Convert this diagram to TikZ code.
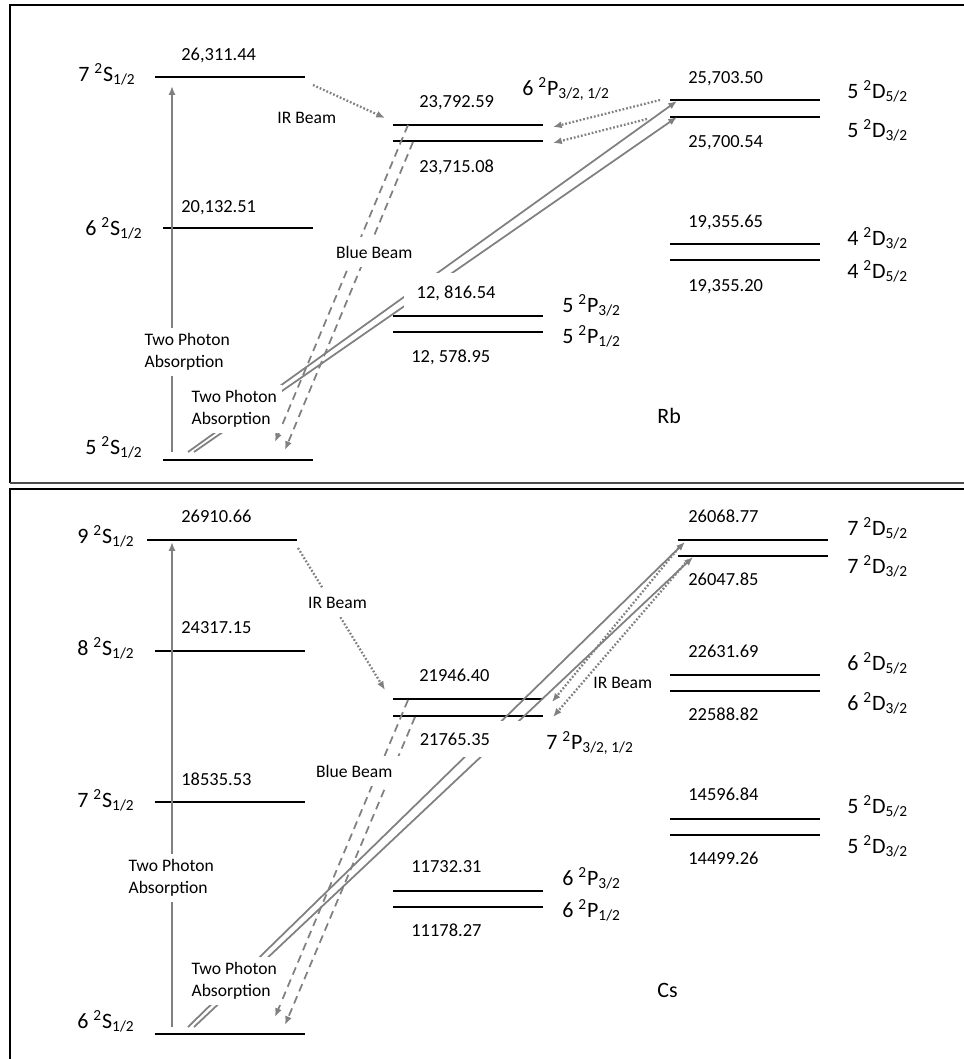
\documentclass[tikz,border=0pt]{standalone}
\usepackage{fontspec}
\setmainfont{Carlito}
\usepackage{tikz}
\usetikzlibrary{arrows.meta}
\definecolor{beamgray}{RGB}{128,128,128}
\newcommand{\trm}[3]{#1~\textsuperscript{2}#2\textsubscript{#3}}

\begin{document}
\begin{tikzpicture}[x=0.02cm, y=-0.02cm,
		lvl/.style={black, line width=1.1pt},
		beam/.style={beamgray, line width=1pt, -{Latex[length=5pt,width=4pt]}},
		irbeam/.style={beam, line width=1.3pt, dash pattern=on 1pt off 1.1pt},
		bluebeam/.style={beam, dash pattern=on 4.5pt off 3pt},
		term/.style={font=\fontsize{12.5}{15}\selectfont, inner sep=0pt},
		val/.style={font=\fontsize{10.5}{12.5}\selectfont, inner sep=0pt},
		note/.style={font=\fontsize{10}{12.5}\selectfont, fill=white, align=left, inner sep=3pt}]
	\useasboundingbox (0,0) rectangle (964,1059);
	\draw[line width=1.3pt] (964,5) -- (10,5) -- (10,483);
	\draw[line width=1pt, black!70] (10,483) -- (964,483);
	\draw[line width=1.3pt] (964,489) -- (10,489) -- (10,1059);

	% Rb
	\draw[lvl] (155,77) -- (305,77);
	\draw[lvl] (163,228) -- (313,228);
	\draw[lvl] (163,460) -- (313,460);
	\draw[lvl] (393,125) -- (543,125);
	\draw[lvl] (393,141) -- (543,141);
	\draw[lvl] (393,316) -- (543,316);
	\draw[lvl] (393,332) -- (543,332);
	\draw[lvl] (670,100) -- (820,100);
	\draw[lvl] (670,117) -- (820,117);
	\draw[lvl] (670,244) -- (820,244);
	\draw[lvl] (670,260) -- (820,260);

	\coordinate (rbS5a) at (172,452);
	\coordinate (rbS7a) at (172,86);
	\coordinate (rbS5b) at (188,452);
	\coordinate (rbS5c) at (194,452);
	\coordinate (rbD5a) at (677,101);
	\coordinate (rbD3a) at (677,117);
	\coordinate (rbP3a) at (408,125);
	\coordinate (rbP1a) at (413,142);
	\coordinate (rbS5d) at (275,442);
	\coordinate (rbS5e) at (285,450);
	\coordinate (rbS7b) at (313,85);
	\coordinate (rbP3b) at (385,118);
	\coordinate (rbD5b) at (660,100);
	\coordinate (rbP3c) at (553,127);
	\coordinate (rbD3b) at (647,119);
	\coordinate (rbP1c) at (553,143);

	\draw[beam] (rbS5a) -- (rbS7a);
	\draw[beam] (rbS5b) -- (rbD5a);
	\draw[beam] (rbS5c) -- (rbD3a);
	\draw[bluebeam] (rbP3a) -- (rbS5d);
	\draw[bluebeam] (rbP1a) -- (rbS5e);
	\draw[irbeam] (rbS7b) -- (rbP3b);
	\draw[irbeam] (rbD5b) -- (rbP3c);
	\draw[irbeam] (rbD3b) -- (rbP1c);

	\node[note, anchor=west] (rbtpa) at (139,352) {Two Photon\\Absorption};
	\node[note, anchor=west] (rbtpb) at (186,409) {Two Photon\\Absorption};
	\node[note, anchor=base west, inner sep=5pt] (rbblue) at (327,258) {Blue Beam};
	\node[note, anchor=base west, inner sep=0pt] (rbir) at (277,123) {IR Beam};
	\node[val, anchor=base west, fill=white, inner sep=7pt] (rbP3v) at (404,298) {12, 816.54};

	\node[term, anchor=base east] (rbS7) at (136,81) {\trm{7}{S}{1/2}};
	\node[term, anchor=base east] (rbS6) at (143,235) {\trm{6}{S}{1/2}};
	\node[term, anchor=base east] (rbS5) at (143,454) {\trm{5}{S}{1/2}};
	\node[val, anchor=base west] (rbS7v) at (181,60) {26,311.44};
	\node[val, anchor=base west] (rbS6v) at (181,212) {20,132.51};
	\node[val, anchor=base west] (rbP6v) at (419,107) {23,792.59};
	\node[val, anchor=base west] (rbP6w) at (419,172) {23,715.08};
	\node[val, anchor=base west] (rbP1v) at (411,362) {12, 578.95};
	\node[term, anchor=base west] (rbP6) at (522,95) {\trm{6}{P}{3/2, 1/2}};
	\node[term, anchor=base west] (rbP3) at (562,312) {\trm{5}{P}{3/2}};
	\node[term, anchor=base west] (rbP1) at (562,343) {\trm{5}{P}{1/2}};
	\node[val, anchor=base west] (rbD5v) at (688,83) {25,703.50};
	\node[val, anchor=base west] (rbD3v) at (688,147) {25,700.54};
	\node[val, anchor=base west] (rbD4v) at (688,227) {19,355.65};
	\node[val, anchor=base west] (rbD4w) at (688,291) {19,355.20};
	\node[term, anchor=base west] (rbD5) at (847,98) {\trm{5}{D}{5/2}};
	\node[term, anchor=base west] (rbD3) at (847,137) {\trm{5}{D}{3/2}};
	\node[term, anchor=base west] (rbD4a) at (847,245) {\trm{4}{D}{3/2}};
	\node[term, anchor=base west] (rbD4b) at (847,278) {\trm{4}{D}{5/2}};
	\node[term, anchor=base west] (rb) at (657,423) {Rb};

	% Cs
	\draw[lvl] (147,540) -- (297,540);
	\draw[lvl] (155,651) -- (305,651);
	\draw[lvl] (155,802) -- (305,802);
	\draw[lvl] (155,1034) -- (305,1034);
	\draw[lvl] (393,699) -- (543,699);
	\draw[lvl] (393,716) -- (543,716);
	\draw[lvl] (393,891) -- (543,891);
	\draw[lvl] (393,907) -- (543,907);
	\draw[lvl] (678,540) -- (828,540);
	\draw[lvl] (678,556) -- (828,556);
	\draw[lvl] (670,675) -- (820,675);
	\draw[lvl] (670,691) -- (820,691);
	\draw[lvl] (670,819) -- (820,819);
	\draw[lvl] (670,835) -- (820,835);

	\coordinate (csS6a) at (172,1027);
	\coordinate (csS9a) at (172,542);
	\coordinate (csS6b) at (188,1027);
	\coordinate (csS6c) at (194,1027);
	\coordinate (csD5a) at (685,542);
	\coordinate (csD3a) at (693,557);
	\coordinate (csP3a) at (408,700);
	\coordinate (csP1a) at (415,717);
	\coordinate (csS6d) at (275,1017);
	\coordinate (csS6e) at (285,1025);
	\coordinate (csS9b) at (298,548);
	\coordinate (csP3b) at (385,690);
	\coordinate (csD5b) at (681,545);
	\coordinate (csP3c) at (552,702);
	\coordinate (csD3b) at (688,560);
	\coordinate (csP1c) at (553,717);

	\draw[beam] (csS6a) -- (csS9a);
	\draw[beam] (csS6b) -- (csD5a);
	\draw[beam] (csS6c) -- (csD3a);
	\draw[bluebeam] (csP3a) -- (csS6d);
	\draw[bluebeam] (csP1a) -- (csS6e);
	\draw[irbeam] (csS9b) -- (csP3b);
	\draw[irbeam] (csD5b) -- (csP3c);
	\draw[irbeam] (csD3b) -- (csP1c);

	\node[note, anchor=west] (cstpa) at (123,878) {Two Photon\\Absorption};
	\node[note, anchor=west] (cstpb) at (186,981) {Two Photon\\Absorption};
	\node[note, anchor=base west, inner sep=5pt] (csblue) at (307,777) {Blue Beam};
	\node[note, anchor=base west, inner sep=5pt] (csira) at (299,608) {IR Beam};
	\node[note, anchor=base west, inner sep=0pt] (csirb) at (593,688) {IR Beam};
	\node[val, anchor=base west, fill=white, inner xsep=2pt, inner ysep=6.5pt, text width=55pt, align=left] (csP7w) at (416,745) {21765.35};

	\node[term, anchor=base east] (csS9) at (135,543) {\trm{9}{S}{1/2}};
	\node[term, anchor=base east] (csS8) at (135,655) {\trm{8}{S}{1/2}};
	\node[term, anchor=base east] (csS7) at (135,807) {\trm{7}{S}{1/2}};
	\node[term, anchor=base east] (csS6) at (135,1028) {\trm{6}{S}{1/2}};
	\node[val, anchor=base west] (csS9v) at (181,522) {26910.66};
	\node[val, anchor=base west] (csS8v) at (181,633) {24317.15};
	\node[val, anchor=base west] (csS7v) at (181,785) {18535.53};
	\node[val, anchor=base west] (csP7v) at (419,681) {21946.40};
	\node[val, anchor=base west] (csP3v) at (411,872) {11732.31};
	\node[val, anchor=base west] (csP1v) at (411,936) {11178.27};
	\node[term, anchor=base west] (csP7) at (546,749) {\trm{7}{P}{3/2, 1/2}};
	\node[term, anchor=base west] (csP3) at (562,885) {\trm{6}{P}{3/2}};
	\node[term, anchor=base west] (csP1) at (562,917) {\trm{6}{P}{1/2}};
	\node[val, anchor=base west] (csD7v) at (688,522) {26068.77};
	\node[val, anchor=base west] (csD7w) at (688,585) {26047.85};
	\node[val, anchor=base west] (csD6v) at (688,657) {22631.69};
	\node[val, anchor=base west] (csD6w) at (688,720) {22588.82};
	\node[val, anchor=base west] (csD5v) at (688,800) {14596.84};
	\node[val, anchor=base west] (csD5w) at (688,864) {14499.26};
	\node[term, anchor=base west] (csD7a) at (847,535) {\trm{7}{D}{5/2}};
	\node[term, anchor=base west] (csD7b) at (847,573) {\trm{7}{D}{3/2}};
	\node[term, anchor=base west] (csD6a) at (847,670) {\trm{6}{D}{5/2}};
	\node[term, anchor=base west] (csD6b) at (847,710) {\trm{6}{D}{3/2}};
	\node[term, anchor=base west] (csD5a) at (847,813) {\trm{5}{D}{5/2}};
	\node[term, anchor=base west] (csD5b) at (847,853) {\trm{5}{D}{3/2}};
	\node[term, anchor=base west] (cs) at (657,997) {Cs};
\end{tikzpicture}
\end{document}
